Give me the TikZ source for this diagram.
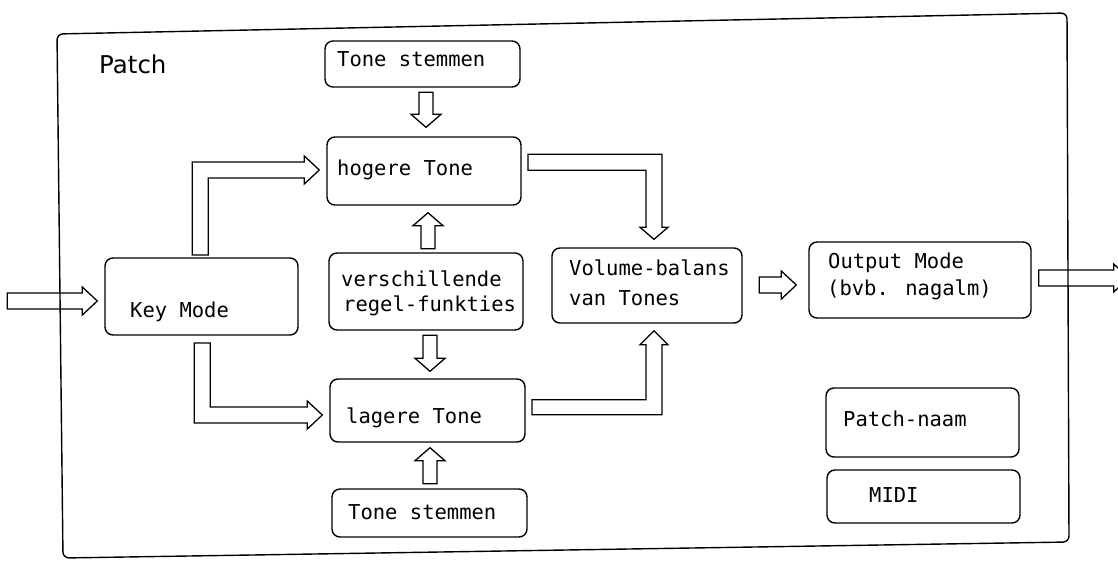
\documentclass[tikz,border=0pt]{standalone}
\usepackage{fontspec}
\usepackage{tikz}
\usetikzlibrary{calc}
\newfontfamily\monofont{DejaVu Sans Mono}
\newfontfamily\labelfont{DejaVu Sans}
\colorlet{background}{white}
\colorlet{penColor}{black}
\tikzset{
  blok/.style={draw=penColor,line width=1.4pt,rounded corners=8pt,inner sep=0pt},
  tekst/.style={anchor=base west,inner sep=0pt,text=penColor,
    font=\monofont\fontsize{20.5}{24}\selectfont},
  pijl/.style={draw=penColor,line width=1.3pt,line join=miter},
}
% hollow block arrows: tip, total length
\newcommand{\pijlrechts}[2]{\draw[pijl] (#1) -- ++(-15,-14) -- ++(0,6) -- ++(15-#2,0)
  -- ++(0,16) -- ++(#2-15,0) -- ++(0,6) -- cycle;}
\newcommand{\pijlneer}[2]{\draw[pijl] (#1) -- ++(-15,-13) -- ++(8,0) -- ++(0,13-#2)
  -- ++(14,0) -- ++(0,#2-13) -- ++(8,0) -- cycle;}
\newcommand{\pijlop}[2]{\draw[pijl] (#1) -- ++(-15,13) -- ++(8,0) -- ++(0,#2-13)
  -- ++(14,0) -- ++(0,13-#2) -- ++(8,0) -- cycle;}

\begin{document}
\begin{tikzpicture}[x=1pt,y=-1pt,line cap=round]

  \useasboundingbox (0,0) rectangle (1118,562);
  \clip (0,0) rectangle (1118,562);

  % the patch frame
  \draw [penColor,line width=1.4pt,rounded corners=6pt]
    (57,34) -- (1067,13) -- (1069,542) -- (63,558) -- cycle;
  \node [anchor=base west,inner sep=0pt,font=\labelfont\fontsize{24.5}{28}\selectfont]
    (patch) at (99,73) {Patch};

  % boxes
  \node [blok,minimum width=195pt,minimum height=46pt] (tsboven) at (422.5,64) {};
  \node [blok,minimum width=194pt,minimum height=68pt] (hoog) at (424,171) {};
  \node [blok,minimum width=194pt,minimum height=77pt] (regel) at (426,291.5) {};
  \node [blok,minimum width=195pt,minimum height=63pt] (laag) at (427.5,410.5) {};
  \node [blok,minimum width=195pt,minimum height=48pt] (tsonder) at (429.5,513) {};
  \node [blok,minimum width=193pt,minimum height=77pt] (key) at (201.5,296.5) {};
  \node [blok,minimum width=190pt,minimum height=75pt] (vol) at (647,285.5) {};
  \node [blok,minimum width=222pt,minimum height=76pt] (out) at (920,280) {};
  \node [blok,minimum width=193pt,minimum height=69pt] (naam) at (922.5,422.5) {};
  \node [blok,minimum width=193pt,minimum height=53pt] (midi) at (923.5,496.5) {};

  % texts
  \node [tekst] (tsboven-t) at (337,66) {Tone stemmen};
  \node [tekst] (hoog-t) at (337,175) {hogere Tone};
  \node [tekst] (regel-t1) at (341,286) {verschillende};
  \node [tekst] (regel-t2) at (343,311) {regel-funkties};
  \node [tekst] (laag-t) at (346,423) {lagere Tone};
  \node [tekst] (tsonder-t) at (348,519) {Tone stemmen};
  \node [tekst] (key-t) at (130,317) {Key Mode};
  \node [tekst] (vol-t1) at (569,275) {Volume-balans};
  \node [tekst] (vol-t2) at (569,305) {van Tones};
  \node [tekst] (out-t1) at (828,268) {Output Mode};
  \node [tekst] (out-t2) at (827,295) {(bvb. nagalm)};
  \node [tekst] (naam-t) at (843,426) {Patch-naam};
  \node [tekst] (midi-t) at (869,502) {MIDI};

  % straight arrows
  \pijlrechts{$(key.west)+(-7,4.5)$}{90}
  \pijlrechts{$(out.west)+(-12,5)$}{37}
  \pijlrechts{$(out.east)+(97,-2)$}{90}
  \pijlneer{$(hoog.north)+(2,-9)$}{35}
  \pijlop{$(hoog.south)+(4,7)$}{36}
  \pijlneer{$(laag.north)+(2.5,-7)$}{36}
  \pijlop{$(laag.south)+(2.5,5)$}{36}

  % bent arrows
  \draw [pijl] ($(hoog.west)+(-7,-1)$) -- ++(-15,-14) -- ++(0,6) -- ++(-112,0)
    -- ++(0,93) -- ++(16,0) -- ++(0,-77) -- ++(96,0) -- ++(0,6) -- cycle;
  \draw [pijl] ($(laag.west)+(-7,4.5)$) -- ++(-15,-14) -- ++(0,6) -- ++(-97,0)
    -- ++(0,-64) -- ++(-16,0) -- ++(0,80) -- ++(113,0) -- ++(0,6) -- cycle;
  \draw [pijl] ($(vol.north)+(7,-8)$) -- ++(-14,-12) -- ++(6,0) -- ++(0,-57)
    -- ++(-118,0) -- ++(0,-16) -- ++(134,0) -- ++(0,73) -- ++(6,0) -- cycle;
  \draw [pijl] ($(vol.south)+(7,7)$) -- ++(-14,14) -- ++(6,0) -- ++(0,55)
    -- ++(-114,0) -- ++(0,15) -- ++(130,0) -- ++(0,-70) -- ++(6,0) -- cycle;

\end{tikzpicture}
\end{document}
